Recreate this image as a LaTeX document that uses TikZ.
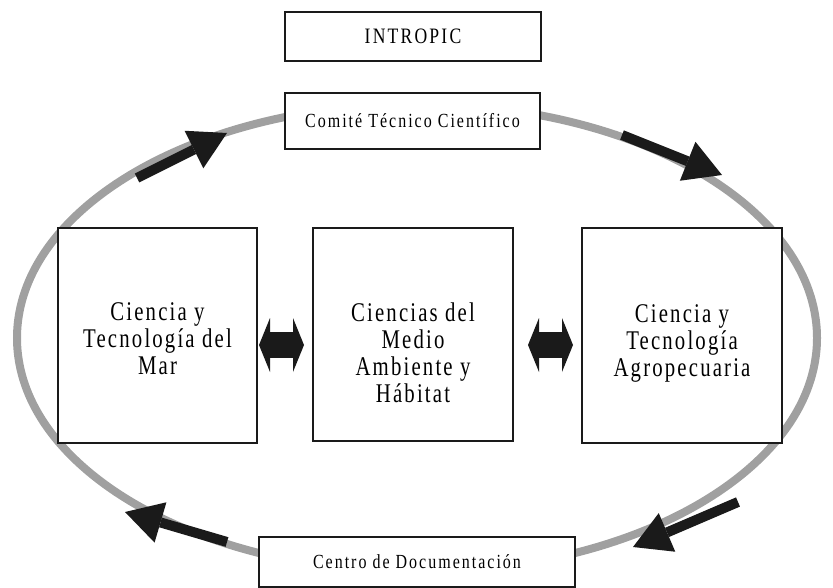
\documentclass[tikz,border=0pt]{standalone}
\usepackage{fontspec}
\setmainfont{Liberation Serif}[FakeStretch=0.77,LetterSpace=8]
\newfontfamily\labelfont{Liberation Serif}[FakeStretch=0.8,LetterSpace=10]
\usetikzlibrary{arrows.meta}
\definecolor{ringgray}{HTML}{A0A0A0}
\definecolor{inkblack}{HTML}{1A1A1A}
\tikzset{
  smallbox/.style={draw=inkblack,line width=2pt,fill=white,inner sep=0pt,
    font=\labelfont\fontsize{20}{24}\selectfont},
  areabox/.style={draw=inkblack,line width=2pt,fill=white,inner sep=0pt},
  areatext/.style={align=center,anchor=north,inner sep=0pt,
    font=\fontsize{27}{27}\selectfont},
  cyclearrow/.style={inkblack,line width=10pt,
    -{Triangle[length=37pt,width=42pt,line width=0pt]}},
  bothways/.style={inkblack,line width=26pt,
    {Triangle[length=11pt,width=54pt,line width=0pt]}-{Triangle[length=11pt,width=54pt,line width=0pt]}}
}
\begin{document}
\begin{tikzpicture}[x=1pt,y=-1pt]
\useasboundingbox (0,0) rectangle (833,588);

% ring
\draw[ringgray,line width=8pt] (417,338) ellipse [x radius=400,y radius=234];

\node[smallbox,minimum width=256,minimum height=49,font=\labelfont\fontsize{22}{24}\selectfont]
  (intropic) at (413,36.5) {INTROPIC};
\node[smallbox,minimum width=255,minimum height=56] (comite) at (412.5,121)
  {Comité Técnico Científico};
\node[smallbox,minimum width=316,minimum height=50] (centro) at (417,562)
  {Centro de Documentación};

\node[areabox,minimum width=199,minimum height=215] (mar) at (157.5,335.5) {};
\node[areabox,minimum width=200,minimum height=213] (medio) at (413,334.5) {};
\node[areabox,minimum width=200,minimum height=215] (agro) at (682,335.5) {};
\node[areatext] (martext) at (157.5,302) {Ciencia y\\Tecnología del\\Mar};
\node[areatext] (mediotext) at (413,303) {Ciencias del\\Medio\\Ambiente y\\Hábitat};
\node[areatext] (agrotext) at (682,304) {Ciencia y\\Tecnología\\Agropecuaria};

\draw[bothways] ([xshift=1,yshift=-9.5]mar.east) -- ([xshift=-8,yshift=-10.5]medio.west);
\draw[bothways] ([xshift=14,yshift=-10.5]medio.east) -- ([xshift=-8,yshift=-9.5]agro.west);

% arrows along the ring
\coordinate (tlfrom) at (137,178); \coordinate (tlto) at (227,133);
\coordinate (trfrom) at (622,135); \coordinate (trto) at (722,175);
\coordinate (brfrom) at (738,502); \coordinate (brto) at (633,547);
\coordinate (blfrom) at (227,542); \coordinate (blto) at (125,512);
\draw[cyclearrow] (tlfrom) -- (tlto);
\draw[cyclearrow] (trfrom) -- (trto);
\draw[cyclearrow] (brfrom) -- (brto);
\draw[cyclearrow] (blfrom) -- (blto);
\end{tikzpicture}
\end{document}
